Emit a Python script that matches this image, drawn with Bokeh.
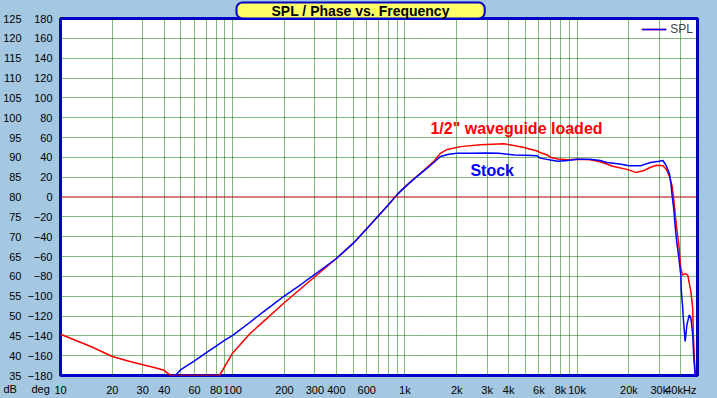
from bokeh.plotting import figure
from bokeh.models import (Range1d, LinearAxis, LogAxis, FixedTicker, Label, Span,
                          Legend, LegendItem)
from bokeh.embed import file_html
from bokeh.resources import INLINE

# ---------------- data ----------------
freq_stock = [46.5, 50, 60, 70, 80, 90, 100, 125, 150, 175, 200, 250, 300, 400,
              500, 600, 700, 800, 900, 1000, 1127, 1288, 1472, 1607, 1800, 2000,
              2400, 3000, 3500, 4300, 5000, 5860, 6100, 7000, 7700, 8800, 10000,
              11900, 13600, 14900, 17700, 20000, 23500, 25000, 26700, 28500,
              30000, 31500, 32900, 34300, 35000, 35600, 36400, 37200, 38100,
              39000, 40000, 40300, 40900, 41500, 42400, 43400, 44800, 45800,
              46900, 47500, 48400]
spl_stock = [35.0, 36.5, 38.7, 40.7, 42.4, 43.9, 45.1, 48.3, 51.0, 53.2, 55.1,
             58.0, 60.5, 64.5, 68.3, 72.0, 75.2, 78.0, 80.6, 82.5, 84.5, 86.6,
             88.7, 90.2, 90.8, 91.0, 91.0, 91.1, 91.0, 90.6, 90.5, 90.4, 89.8,
             89.3, 89.0, 89.2, 89.5, 89.5, 89.2, 88.7, 88.3, 87.9, 87.9, 88.3,
             88.7, 88.9, 89.0, 89.2, 87.9, 86.0, 83.7, 80.4, 77.0, 72.0, 67.8,
             64.5, 60.3, 56.1, 52.8, 48.6, 43.6, 47.8, 50.3, 49.4, 45.2, 40.2,
             35.0]

freq_wg = [10, 12, 15, 20, 25, 30, 35, 40, 43.6, 60, 83.8, 100, 127, 158, 200,
           250, 300, 400, 500, 600, 700, 800, 900, 1000, 1127, 1288, 1472, 1607,
           1761, 2103, 2750, 3750, 4286, 4900, 5860, 6100, 6700, 7000, 7700,
           8800, 10000, 11900, 13600, 16300, 19700, 21900, 24200, 26700, 29000,
           31500, 32900, 34300, 35600, 36400, 37700, 39000, 40000, 40900, 42400,
           43900, 45800, 46900, 47300, 48000, 48700]
spl_wg = [45.4, 44.0, 42.3, 39.8, 38.6, 37.7, 37.0, 36.3, 35.0, 35.0, 35.0, 40.7,
          45.7, 49.4, 53.4, 57.0, 59.9, 64.5, 68.3, 72.0, 75.2, 78.0, 80.6, 82.6,
          84.6, 86.7, 89.0, 91.0, 92.0, 92.7, 93.2, 93.4, 93.0, 92.5, 91.6, 91.2,
          90.6, 90.0, 89.6, 89.4, 89.5, 89.4, 88.9, 87.7, 86.9, 86.2, 86.6, 87.5,
          88.0, 87.9, 87.0, 85.3, 82.8, 79.5, 72.8, 67.8, 62.0, 60.3, 60.7, 60.3,
          56.1, 51.9, 45.2, 38.6, 35.0]

x_ticks = [10, 20, 30, 40, 60, 80, 100, 200, 300, 400, 600, 1000, 2000, 3000,
           4000, 6000, 8000, 10000, 20000, 30000, 40000]
x_tick_labels = ["10", "20", "30", "40", "60", "80", "100", "200", "300", "400",
                 "600", "1k", "2k", "3k", "4k", "6k", "8k", "10k", "20k", "30k",
                 "40kHz"]
db_ticks = list(range(35, 130, 5))
deg_ticks = list(range(-180, 200, 20))

# ---------------- styles ----------------
BG = "#A4C8E2"
FRAME = "#0000C8"
GRID = "#007000"
FONT = "Liberation Sans"

p = figure(width=717, height=398, x_axis_type="log",
           x_range=Range1d(10, 50000), y_range=Range1d(35, 125),
           y_axis_location=None, x_axis_location=None,
           output_backend="svg", toolbar_location=None,
           min_border_left=60, min_border_right=20,
           min_border_top=18, min_border_bottom=21,
           background_fill_color="white", border_fill_color=BG,
           outline_line_color=FRAME, outline_line_width=3)

p.extra_y_ranges = {"deg": Range1d(-180, 180)}

# title
t = p.title
t.text = "SPL / Phase vs. Frequency"
t.align = "left"
t.offset = 176
t.standoff = 0
t.text_font = FONT
t.text_font_style = "bold"
t.text_font_size = "14px"
t.text_color = "black"
t.background_fill_color = "#FFFF66"
t.border_line_color = FRAME
t.border_line_width = 2
props = p.title.properties()
if "border_radius" in props:
    t.border_radius = 6
if "padding" in props:
    t.padding = dict(left=35, right=35, top=0, bottom=0)

cap_kw = dict(text_font=FONT, text_font_size="11px", text_color="black",
              text_align="left", text_baseline="middle")

# "dB" caption sits in the first below-panel, the x axis right under it
p.add_layout(Label(x=-57, y=-1.5, x_units="screen", y_units="screen",
                   text="dB", **cap_kw), "below")

xa = LogAxis(ticker=FixedTicker(ticks=x_ticks))
xa.major_label_overrides = {tk: lb for tk, lb in zip(x_ticks, x_tick_labels)}
xa.axis_line_color = None
xa.major_tick_line_color = None
xa.minor_tick_line_color = None
xa.major_tick_out = 0
xa.major_tick_in = 0
xa.minor_tick_out = 0
xa.major_label_standoff = -4
xa.major_label_text_font = FONT
xa.major_label_text_font_size = "11px"
xa.major_label_text_color = "black"
p.add_layout(xa, "below")

# "deg" caption sits in the right panel
p.add_layout(Label(x=-666, y=-13.5, x_units="screen", y_units="screen",
                   text="deg", **cap_kw), "right")

def style_y(ax, standoff):
    ax.axis_line_color = None
    ax.major_tick_line_color = None
    ax.minor_tick_line_color = None
    ax.major_tick_out = 0
    ax.major_tick_in = 0
    ax.minor_tick_out = 0
    ax.major_label_standoff = standoff
    ax.major_label_text_font = FONT
    ax.major_label_text_font_size = "11px"
    ax.major_label_text_color = "black"

deg_axis = LinearAxis(y_range_name="deg", ticker=FixedTicker(ticks=deg_ticks))
style_y(deg_axis, 8)
p.add_layout(deg_axis, "left")
db_axis = LinearAxis(ticker=FixedTicker(ticks=db_ticks))
style_y(db_axis, 3)
p.add_layout(db_axis, "left")

# grids
xgrid_ticks = [m * 10 ** e for e in range(1, 5) for m in range(1, 10)
               if 10 < m * 10 ** e < 50000]
p.xgrid.ticker = FixedTicker(ticks=xgrid_ticks)
p.xgrid.grid_line_color = GRID
p.xgrid.grid_line_dash = "1 1"
p.xgrid.grid_line_width = 1
p.ygrid.ticker = FixedTicker(ticks=[v for v in db_ticks if 35 < v < 125 and v != 80])
p.ygrid.grid_line_color = GRID
p.ygrid.grid_line_dash = "1 1"
p.ygrid.grid_line_width = 1

p.add_layout(Span(location=80, dimension="width", line_color="#A00000", line_width=1.2))

# curves
r_wg = p.line(freq_wg, spl_wg, line_color="#FF0000", line_width=1.5)
r_stock = p.line(freq_stock, spl_stock, line_color="#0000FF", line_width=1.5)

legend = Legend(items=[LegendItem(label="SPL", renderers=[r_wg, r_stock])],
                location="top_right", border_line_color=None,
                background_fill_alpha=0, label_text_font=FONT,
                label_text_font_size="12px", glyph_width=25, glyph_height=8,
                padding=2, margin=4, label_standoff=4)
p.add_layout(legend)

# annotations
p.add_layout(Label(x=4446, y=97.2, text='1/2" waveguide loaded',
                   text_color="#FF0000", text_font=FONT, text_font_style="bold",
                   text_font_size="16px", text_align="center",
                   text_baseline="middle"))
p.add_layout(Label(x=3213, y=86.8, text="Stock",
                   text_color="#0000FF", text_font=FONT, text_font_style="bold",
                   text_font_size="16px", text_align="center",
                   text_baseline="middle"))

html = file_html(p, INLINE)
html = html.replace("<head>", "<head><style>html,body{margin:0;padding:0;overflow:hidden;background:%s}</style>" % BG, 1)
open("out.html", "w").write(html)
